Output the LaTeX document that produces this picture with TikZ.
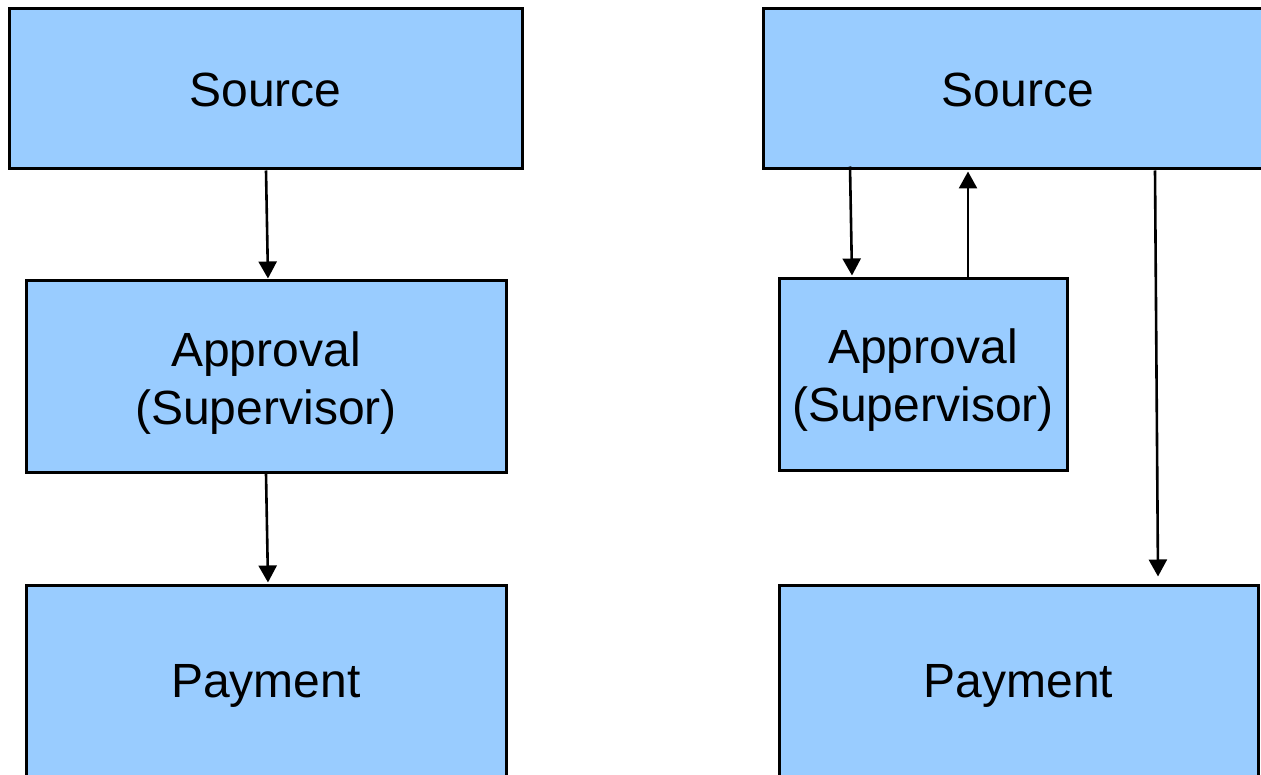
\documentclass[tikz,border=0pt]{standalone}
\usepackage{fontspec}
\setmainfont{Liberation Sans}
\usetikzlibrary{arrows.meta}
\definecolor{boxblue}{HTML}{99CCFF}
% set a label so that its first baseline lies #1 below the box centre
\newcommand{\boxlabel}[2]{\raisebox{-#1}[0pt][0pt]{\begin{tabular}[t]{@{}c@{}}#2\end{tabular}}}
\begin{document}
\begin{tikzpicture}[x=1pt,y=-1pt,
  stagebox/.style={draw=black, line width=3pt, fill=boxblue, inner sep=0pt,
    font=\fontsize{48}{57.5}\selectfont},
  flow/.style={draw=black, line width=2.6pt,
    -{Triangle[length=17pt,width=18pt]}}]
\useasboundingbox (0,0) rectangle (1261,775);
\clip (0,0) rectangle (1261,775);

% left column: straight chain
\node[stagebox, minimum width=513pt, minimum height=160pt] (src1) at (265.5,89) {\boxlabel{18pt}{Source}};
\node[stagebox, minimum width=480pt, minimum height=191pt] (app1) at (266,376.5) {\boxlabel{-9.5pt}{Approval\\(Supervisor)}};
\node[stagebox, minimum width=480pt, minimum height=198pt] (pay1) at (266,684) {\boxlabel{13pt}{Payment}};

% right column: approval returns to source, source pays directly
\node[stagebox, minimum width=510pt, minimum height=160pt] (src2) at (1018,89) {\boxlabel{18pt}{Source}};
\node[stagebox, minimum width=288pt, minimum height=191pt] (app2) at (923,374.5) {\boxlabel{-10.5pt}{Approval\\(Supervisor)}};
\node[stagebox, minimum width=479pt, minimum height=198pt] (pay2) at (1018.5,684) {\boxlabel{13pt}{Payment}};

% left connectors
\draw[flow] ([xshift=0.5pt]src1.south) -- ([xshift=2pt,yshift=1pt]app1.north);
\draw[flow] (app1.south) -- ([xshift=2pt,yshift=1pt]pay1.north);

% right connectors
\draw[flow] ([xshift=-168pt,yshift=4pt]src2.south) -- ([xshift=-71pt,yshift=2pt]app2.north);
\draw[flow] ([xshift=45pt,yshift=-1pt]app2.north) -- ([xshift=-50pt,yshift=-1pt]src2.south);
\draw[flow] ([xshift=137pt]src2.south) -- ([xshift=139.5pt,yshift=7pt]pay2.north);
\end{tikzpicture}
\end{document}
